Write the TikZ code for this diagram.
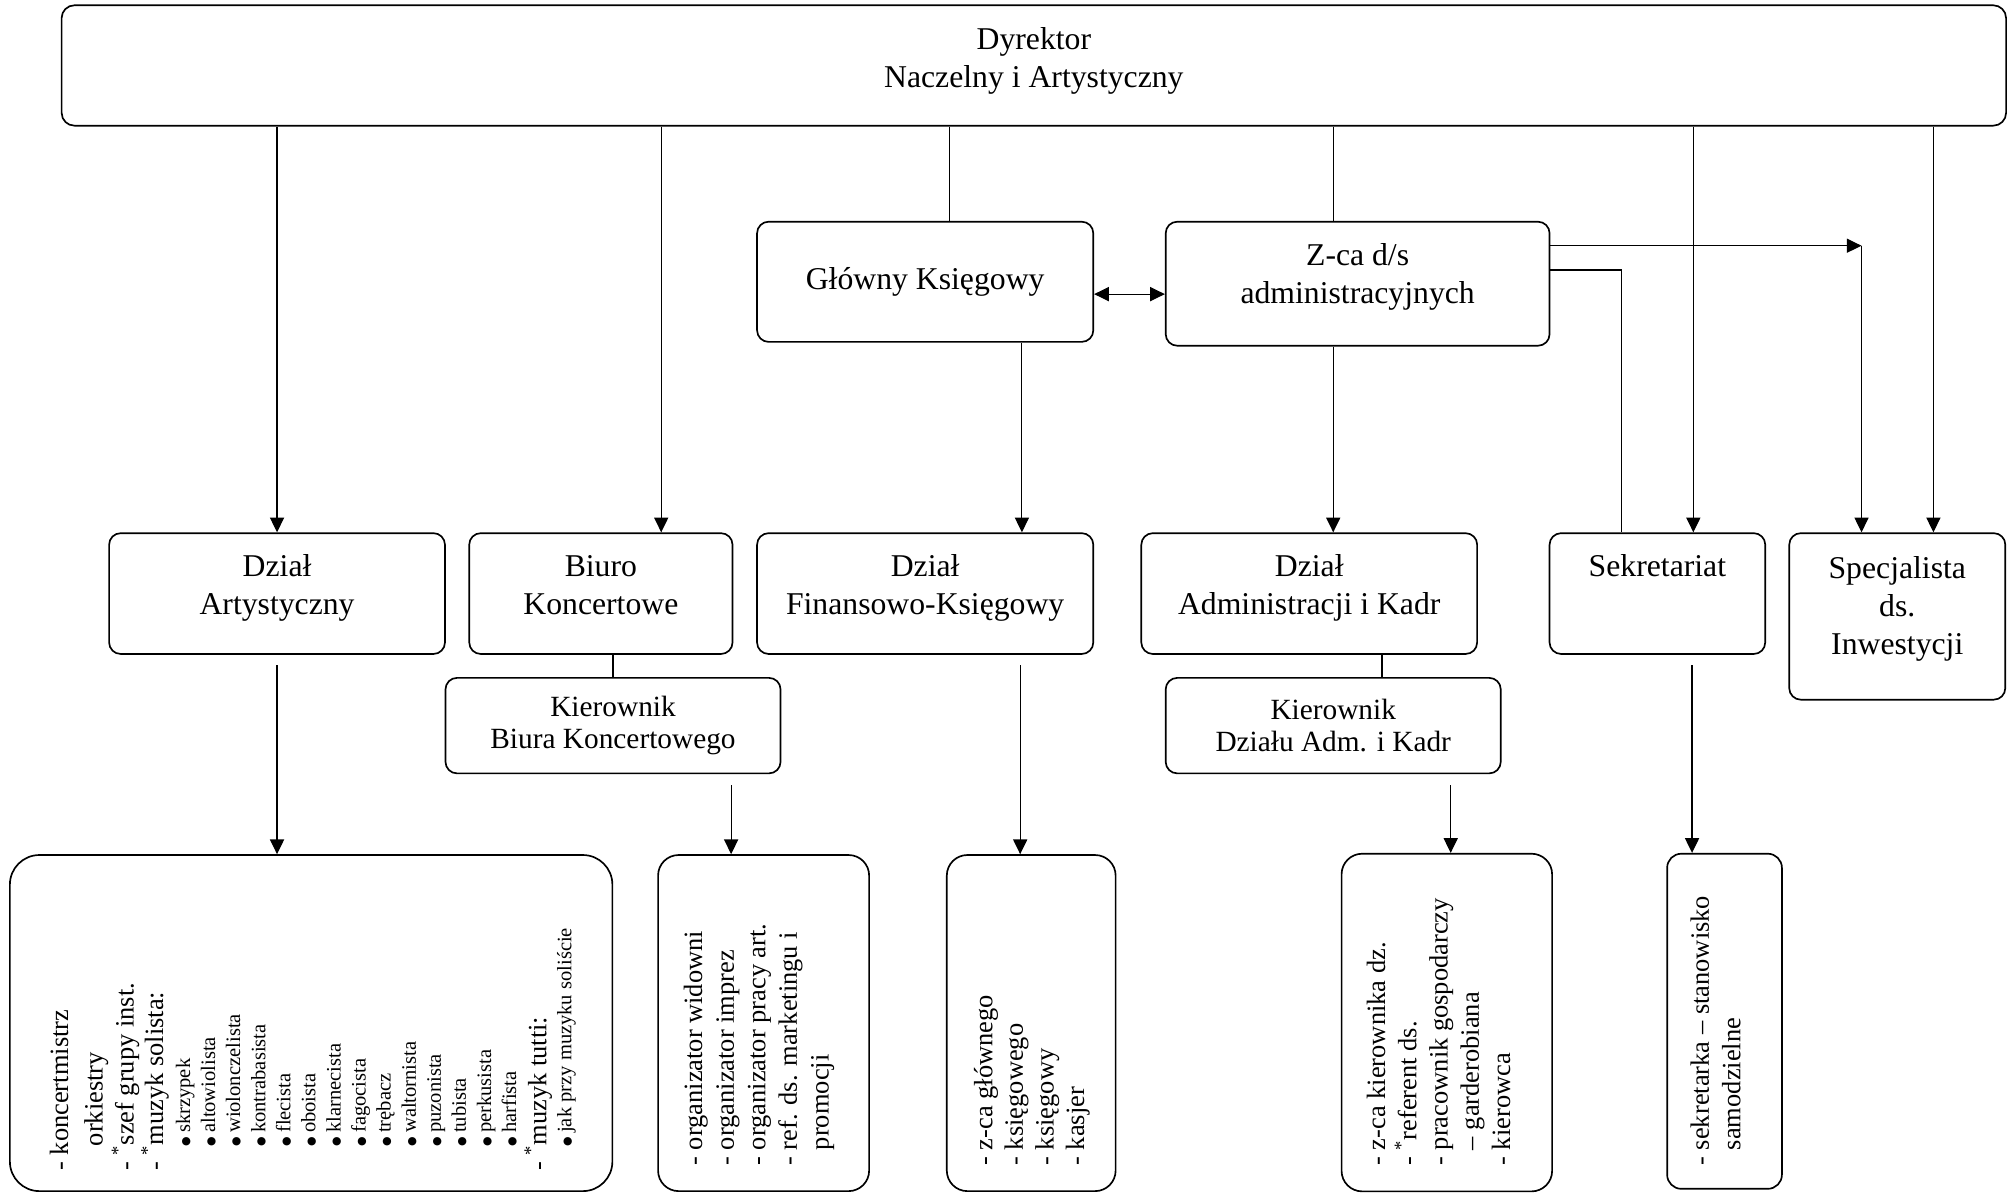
\documentclass[tikz,border=0pt]{standalone}
\usepackage{fontspec}
\setmainfont{Liberation Serif}
\newfontfamily\dvs{DejaVu Sans}
\usetikzlibrary{arrows.meta,calc}
\newcommand\tline[3]{{\fontsize{#1pt}{#2pt}\selectfont #3\par}}
\newcommand\lift[1]{\rule[-#1pt]{0pt}{0pt}}
\newcommand\bul{\hspace*{19pt}\raisebox{0.6pt}{\dvs\fontsize{8.5pt}{8.5pt}\selectfont ●}\hspace{3pt}}
\newcommand\vlist[2]{\begin{minipage}[t]{#1pt}\raggedright\parindent0pt\parskip0pt\lineskiplimit-100pt\lineskip0pt #2\end{minipage}}
\tikzset{
  box/.style={draw, line width=1.3pt, rounded corners=9pt, inner sep=0pt, align=center,
    font=\fontsize{24.7pt}{29.6pt}\selectfont},
  kbox/.style={box, font=\fontsize{22.85pt}{25.2pt}\selectfont},
  listbox/.style={draw, line width=1.3pt, inner sep=0pt},
  conn/.style={line width=0.9pt},
  arr/.style={conn, -{Triangle[length=11.5pt,width=11pt]}},
  dbl/.style={conn, {Triangle[length=11.5pt,width=11pt]}-{Triangle[length=11.5pt,width=11pt]}},
  vtext/.style={rotate=90, anchor=base west, inner sep=0pt},
}
\begin{document}
\begin{tikzpicture}[x=1pt,y=-1pt]
\useasboundingbox (0,0) rectangle (1568,929);
% top
\node[box, rounded corners=10pt, minimum width=1514.6pt, minimum height=93.8pt] (dir) at (805.3,51) {Dyrektor\\Naczelny i Artystyczny\lift{12.4}};
\node[box, minimum width=261.9pt, minimum height=93.6pt] (gk) at (720.65,219.5) {Główny Księgowy};
\node[box, minimum width=299pt, minimum height=96.6pt] (zca) at (1057.5,221) {Z-ca d/s\\administracyjnych\lift{16.4}};
% row 2
\node[box, minimum width=261.6pt, minimum height=94.1pt] (da) at (215.8,462.35) {Dział\\Artystyczny\lift{13.4}};
\node[box, minimum width=205.1pt, minimum height=94.1pt] (bk) at (468.05,462.35) {Biuro\\Koncertowe\lift{13.4}};
\node[box, minimum width=261.9pt, minimum height=94.1pt] (df) at (720.65,462.35) {Dział\\Finansowo-Księgowy\lift{13.4}};
\node[box, minimum width=261.6pt, minimum height=94.1pt] (dak) at (1019.8,462.35) {Dział\\Administracji i Kadr\lift{13.4}};
\node[box, minimum width=168pt, minimum height=94.1pt] (sek) at (1291,462.35) {Sekretariat\\\lift{13.4}};
\node[box, minimum width=168.3pt, minimum height=129.7pt] (spec) at (1477.85,480.15) {Specjalista\\ds.\\Inwestycji\lift{17.4}};
\node[kbox, minimum width=261pt, minimum height=74.4pt] (kb) at (477.5,565.2) {Kierownik\\Biura Koncertowego};
\node[kbox, minimum width=261pt, minimum height=74.4pt] (kd) at (1038.5,565.2) {Kierownik\\Działu Adm. i Kadr};
% row 3 boxes
\node[listbox, rounded corners=23pt, minimum width=469.3pt, minimum height=261.8pt] (b1) at (242.35,796.9) {};
\node[listbox, rounded corners=16pt, minimum width=164.4pt, minimum height=261.8pt] (b2) at (594.8,796.9) {};
\node[listbox, rounded corners=16pt, minimum width=131.5pt, minimum height=261.8pt] (b3) at (803.25,796.9) {};
\node[listbox, rounded corners=16pt, minimum width=164pt, minimum height=263pt] (b4) at (1127,796.5) {};
\node[listbox, rounded corners=11pt, minimum width=89.4pt, minimum height=261pt] (b5) at (1343.3,795.5) {};
% row 3 texts
\node[vtext] (t1) at (53,912) {\vlist{220}{%
\tline{20.6}{20}{- koncertmistrz}
\tline{20.6}{27}{\hspace*{19pt}orkiestry}
\tline{20.6}{24}{- \textsuperscript{*}szef grupy inst.}
\tline{20.6}{23}{- \textsuperscript{*}muzyk solista:}
\tline{16}{21}{\bul skrzypek}
\tline{16}{19.54}{\bul altowiolista}
\tline{16}{19.54}{\bul wiolonczelista}
\tline{16}{19.54}{\bul kontrabasista}
\tline{16}{19.54}{\bul flecista}
\tline{16}{19.54}{\bul oboista}
\tline{16}{19.54}{\bul klarnecista}
\tline{16}{19.54}{\bul fagocista}
\tline{16}{19.54}{\bul trębacz}
\tline{16}{19.54}{\bul waltornista}
\tline{16}{19.54}{\bul puzonista}
\tline{16}{19.54}{\bul tubista}
\tline{16}{19.54}{\bul perkusista}
\tline{16}{19.54}{\bul harfista}
\tline{20.6}{23.5}{- \textsuperscript{*}muzyk tutti:}
\tline{16}{19.5}{\bul jak przy muzyku soliście}}};
\node[vtext] (t2) at (547,908) {\vlist{200}{%
\tline{20.6}{24.6}{- organizator widowni}
\tline{20.6}{24.6}{- organizator imprez}
\tline{20.6}{24.6}{- organizator pracy art.}
\tline{20.6}{24.6}{- ref. ds. marketingu i}
\tline{20.6}{24.6}{\hphantom{- }promocji}}};
\node[vtext] (t3) at (773,908) {\vlist{150}{%
\tline{20.6}{23.8}{- z-ca głównego}
\tline{20.6}{23.8}{- księgowego}
\tline{20.6}{23.8}{- księgowy}
\tline{20.6}{23.8}{- kasjer}}};
\node[vtext] (t4) at (1079,908) {\vlist{220}{%
\tline{20.6}{24.3}{- z-ca kierownika dz.}
\tline{20.6}{24.3}{- \textsuperscript{*}referent ds.}
\tline{20.6}{24.3}{- pracownik gospodarczy}
\tline{20.6}{24.3}{\hphantom{- }– garderobiana}
\tline{20.6}{24.3}{- kierowca}}};
\node[vtext] (t5) at (1331,908) {\vlist{225}{%
\tline{20.6}{24.7}{- sekretarka – stanowisko}
\tline{20.6}{24.7}{\hphantom{- }samodzielne}}};
% connectors from director
\draw[arr] (dir.south -| da.north) -- (da.north);
\coordinate (xa) at ([xshift=47pt]bk.north);
\draw[arr] (xa |- dir.south) -- (xa);
\coordinate (xb) at ([xshift=18.75pt]gk.north);
\draw[conn] (xb |- dir.south) -- (xb);
\coordinate (xc) at ([xshift=-19pt]zca.north);
\draw[conn] (xc |- dir.south) -- (xc);
\coordinate (xd) at ([xshift=28pt]sek.north);
\draw[arr] (xd |- dir.south) -- (xd);
\coordinate (xe) at ([xshift=28.15pt]spec.north);
\draw[arr] (xe |- dir.south) -- (xe);
% middle
\coordinate (ya) at ([yshift=-9.6pt]gk.east);
\draw[dbl] (ya) -- (ya -| zca.west);
\coordinate (c1) at (1450,191.4);
\draw[arr] (c1 -| zca.east) -- (c1);
\draw[arr] (c1) -- (c1 |- spec.north);
\coordinate (c2) at (1263,210.3);
\draw[conn] (c2 -| zca.east) -- (c2) -- (c2 |- sek.north);
\coordinate (xf) at ([xshift=75.35pt]gk.south);
\draw[arr] (xf) -- (xf |- df.north);
\coordinate (xg) at ([xshift=-19pt]zca.south);
\draw[arr] (xg) -- (xg |- dak.north);
\draw[conn] (kb.north |- bk.south) -- (kb.north);
\coordinate (xh) at ([xshift=38pt]kd.north);
\draw[conn] (xh |- dak.south) -- (xh);
% to row 3
\draw[arr, shorten <=8pt] (da.south) -- (da.south |- b1.north);
\coordinate (xi) at ([xshift=92pt]kb.south);
\draw[arr, shorten <=8.6pt] (xi) -- (xi |- b2.north);
\coordinate (xj) at ([xshift=74pt]df.south);
\draw[arr, shorten <=8pt] (xj) -- (xj |- b3.north);
\coordinate (xk) at ([xshift=91.5pt]kd.south);
\draw[arr, shorten <=8.6pt] (xk) -- (xk |- b4.north);
\coordinate (xl) at ([xshift=27pt]sek.south);
\draw[arr, shorten <=8pt] (xl) -- (xl |- b5.north);
\end{tikzpicture}
\end{document}
